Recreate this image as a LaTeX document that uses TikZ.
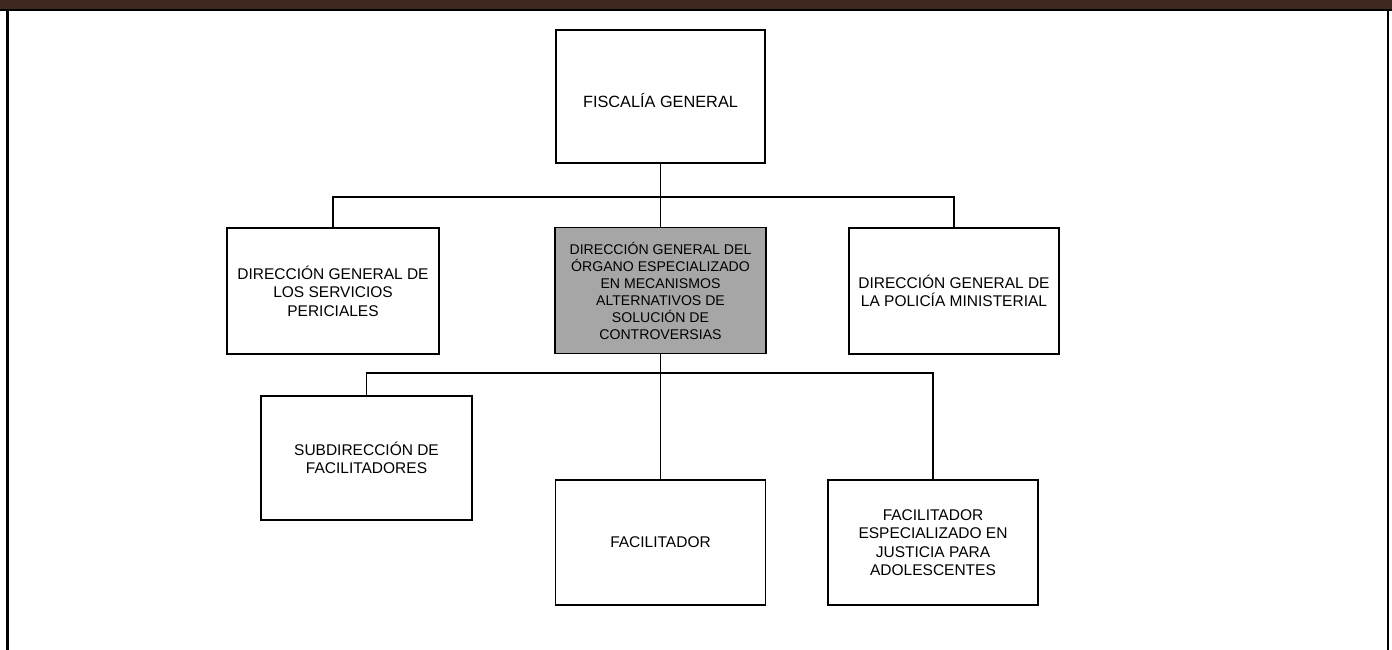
\documentclass[tikz,border=0pt]{standalone}
\usepackage{fontspec}
\setmainfont{Liberation Sans}
\definecolor{barbrown}{RGB}{62,40,32}
\definecolor{boxgray}{RGB}{166,166,166}
\begin{document}
\begin{tikzpicture}[x=1pt,y=-1pt,
  orgbox/.style={draw=black,line width=1.9pt,fill=white,rectangle,align=center,
    inner sep=2pt,font=\fontsize{15.5}{18.5}\selectfont},
  link/.style={draw=black,line width=1.9pt},
  frame/.style={draw=black,line width=2.4pt}]
\useasboundingbox (0,0) rectangle (1392,650);
% page frame
\fill[barbrown] (0,0) rectangle (1392,9.5);
\coordinate (tl) at (0,10.3);
\coordinate (tr) at (1392,10.3);
\draw[frame] (tl) -- (tr);
\coordinate (lt) at (7.6,10);
\coordinate (lb) at (7.6,650);
\coordinate (rt) at (1388,10);
\coordinate (rb) at (1388,650);
\draw[frame] (lt) -- (lb);
\draw[frame] (rt) -- (rb);
% boxes
\node[orgbox,font=\fontsize{16.3}{19}\selectfont,minimum width=209pt,minimum height=133pt] (fg) at (660.5,96.5) {\raisebox{-4pt}[\height][\depth]{FISCALÍA GENERAL}};
\node[orgbox,minimum width=212pt,minimum height=126pt] (dsp) at (333,291) {DIRECCIÓN GENERAL DE\\LOS SERVICIOS\\PERICIALES};
\node[orgbox,fill=boxgray,font=\fontsize{14.1}{17}\selectfont,minimum width=211pt,minimum height=126pt] (dgo) at (660.5,290.5) {DIRECCIÓN GENERAL DEL\\ÓRGANO ESPECIALIZADO\\EN MECANISMOS\\ALTERNATIVOS DE\\SOLUCIÓN DE\\CONTROVERSIAS};
\node[orgbox,minimum width=210pt,minimum height=126pt] (dpm) at (954,291) {DIRECCIÓN GENERAL DE\\LA POLICÍA MINISTERIAL};
\node[orgbox,minimum width=211pt,minimum height=124pt] (sub) at (366.5,458) {SUBDIRECCIÓN DE\\FACILITADORES};
\node[orgbox,minimum width=210pt,minimum height=125pt] (fac) at (660.5,542.5) {FACILITADOR};
\node[orgbox,minimum width=210pt,minimum height=125pt] (fea) at (933,542.5) {FACILITADOR\\ESPECIALIZADO EN\\JUSTICIA PARA\\ADOLESCENTES};
% connectors
\coordinate (bus1) at (660.5,197);
\coordinate (bus2) at (660.5,373);
\draw[link] (fg.south) -- (bus1);
\draw[link] (bus1) -- (dgo.north);
\draw[link] (dsp.north) |- (bus1);
\draw[link] (dpm.north) |- (bus1);
\draw[link] (dgo.south) -- (bus2);
\draw[link] (bus2) -- (fac.north);
\draw[link] (sub.north) |- (bus2);
\draw[link] (fea.north) |- (bus2);
\end{tikzpicture}
\end{document}
